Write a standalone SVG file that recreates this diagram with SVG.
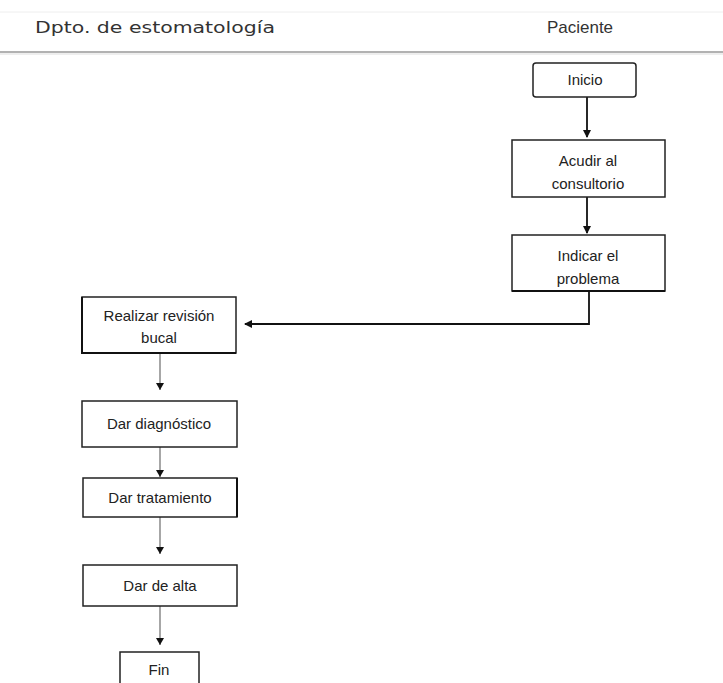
<svg xmlns="http://www.w3.org/2000/svg" width="723" height="683" viewBox="0 0 723 683">
<defs>
<marker id="ah" markerWidth="8" markerHeight="8" refX="7" refY="4" orient="auto" markerUnits="userSpaceOnUse">
<path d="M0,0 L8,4 L0,8 z" fill="#111"/>
</marker>
<style>
.box{fill:#fff;stroke:#222;stroke-width:1.5}
.lbl{font-family:"Liberation Sans",Arial,sans-serif;font-size:15px;fill:#222;text-anchor:middle}
.hdr{font-family:"Liberation Sans",Arial,sans-serif;font-size:17px;fill:#333}
.con{fill:none;stroke:#111;stroke-width:1.8}
.con2{fill:none;stroke:#777;stroke-width:1.3}
</style>
</defs>
<rect width="723" height="683" fill="#fff"/>
<g id="headers">
<line x1="0" y1="12" x2="723" y2="12" stroke="#eee" stroke-width="1"/>
<text class="hdr" x="35" y="33" style="font-family:'DejaVu Sans',Verdana,sans-serif;font-size:16px" textLength="240" lengthAdjust="spacingAndGlyphs">Dpto. de estomatología</text>
<text class="hdr" x="580" y="33" text-anchor="middle">Paciente</text>
<line x1="0" y1="52" x2="723" y2="52" stroke="#999" stroke-width="1.5"/>
<line x1="0" y1="54" x2="723" y2="54" stroke="#ddd" stroke-width="1"/>
</g>
<g id="connectors">
<line class="con" x1="587" y1="97" x2="587" y2="137" marker-end="url(#ah)"/>
<line class="con" x1="587" y1="197" x2="587" y2="233" marker-end="url(#ah)"/>
<polyline class="con" points="589,291 589,324 245,324" marker-end="url(#ah)"/>
<line class="con2" x1="160" y1="353" x2="160" y2="390"/>
<path d="M156,383 L164,383 L160,390 z" fill="#111"/>
<line class="con2" x1="160" y1="447" x2="160" y2="477"/>
<path d="M156,470 L164,470 L160,477 z" fill="#111"/>
<line class="con2" x1="160" y1="517" x2="160" y2="554"/>
<path d="M156,547 L164,547 L160,554 z" fill="#111"/>
<line class="con2" x1="160" y1="606" x2="160" y2="645"/>
<path d="M156,638 L164,638 L160,645 z" fill="#111"/>
</g>
<g id="inicio">
<rect class="box" x="533" y="63" width="103" height="34" rx="3"/>
<text class="lbl" x="585" y="85">Inicio</text>
</g>
<g id="acudir">
<rect class="box" x="512" y="140" width="153" height="57" stroke="#999"/>
<text class="lbl" x="588" y="166">Acudir al</text>
<text class="lbl" x="588" y="189">consultorio</text>
</g>
<g id="indicar">
<rect class="box" x="512" y="235" width="153" height="56" stroke="#888"/>
<line x1="512" y1="291" x2="665" y2="291" stroke="#111" stroke-width="2"/>
<text class="lbl" x="588" y="261">Indicar el</text>
<text class="lbl" x="588" y="284">problema</text>
</g>
<g id="realizar">
<rect class="box" x="82" y="297" width="154" height="56" stroke="#ccc"/>
<polyline points="82,297 82,353 236,353" fill="none" stroke="#111" stroke-width="2"/>
<text class="lbl" x="159" y="321">Realizar revisión</text>
<text class="lbl" x="159" y="343">bucal</text>
</g>
<g id="diagnostico">
<rect class="box" x="82" y="401" width="155" height="46" stroke-width="2"/>
<text class="lbl" x="159" y="429">Dar diagnóstico</text>
</g>
<g id="tratamiento">
<rect class="box" x="83" y="478" width="154" height="39" stroke="#999"/>
<line x1="237" y1="478" x2="237" y2="517" stroke="#111" stroke-width="2"/>
<text class="lbl" x="160" y="503">Dar tratamiento</text>
</g>
<g id="alta">
<rect class="box" x="83" y="565" width="154" height="41" stroke="#999"/>
<text class="lbl" x="160" y="591">Dar de alta</text>
</g>
<g id="fin">
<rect class="box" x="120" y="652" width="79" height="40"/>
<text class="lbl" x="159" y="675">Fin</text>
</g>
</svg>
